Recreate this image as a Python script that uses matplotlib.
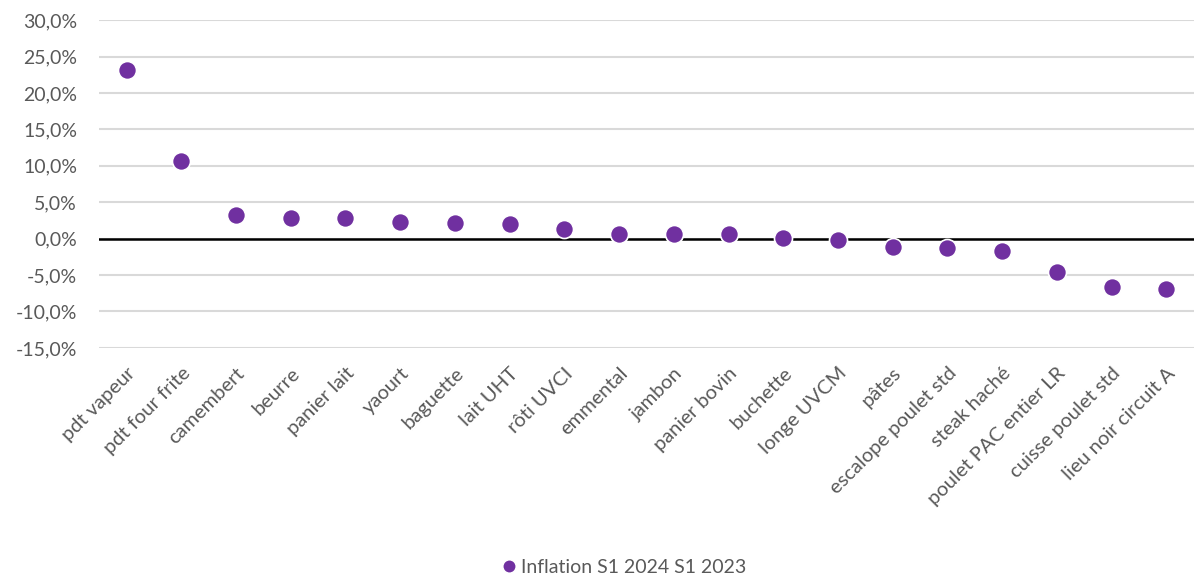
import matplotlib.pyplot as plt
from matplotlib.ticker import FuncFormatter

# Products and inflation S1 2024 vs S1 2023 (%)
products = ['pdt vapeur', 'pdt four frite', 'camembert', 'beurre', 'panier lait',
            'yaourt', 'baguette', 'lait UHT', 'rôti UVCI', 'emmental', 'jambon',
            'panier bovin', 'buchette', 'longe UVCM', 'pâtes', 'escalope poulet std',
            'steak haché', 'poulet PAC entier LR', 'cuisse poulet std',
            'lieu noir circuit A']
inflation = [23.1, 10.7, 3.3, 2.9, 2.8, 2.35, 2.1, 1.95, 1.35, 0.7, 0.7, 0.6,
             0.1, -0.15, -1.15, -1.3, -1.7, -4.6, -6.7, -6.9]
series_name = 'Inflation S1 2024 S1 2023'
y_ticks = [-15, -10, -5, 0, 5, 10, 15, 20, 25, 30]

plt.rcParams['font.family'] = ['Lato', 'DejaVu Sans']

fig = plt.figure(figsize=(11.96, 5.76), dpi=100)
ax = fig.add_axes([0.083, 0.396, 0.915, 0.569])

x = range(len(products))
ax.plot(x, inflation, linestyle='none', marker='o', markersize=13,
        color='#7030A0', markeredgecolor='white', markeredgewidth=1.2,
        label=series_name, zorder=3)

ax.axhline(0, color='black', linewidth=1.8, zorder=2)

ax.set_ylim(-15, 30)
ax.set_yticks(y_ticks)
ax.yaxis.set_major_formatter(FuncFormatter(lambda v, p: f'{v:.1f}%'.replace('.', ',')))
ax.set_xlim(-0.5, len(products) - 0.5)
ax.set_xticks(list(x))
ax.set_xticklabels(products, rotation=45, ha='right', rotation_mode='anchor',
                   fontsize=14.5)

ax.grid(axis='y', color='#d9d9d9', linewidth=1.5, zorder=0)
ax.set_axisbelow(True)
for s in ax.spines.values():
    s.set_visible(False)
ax.tick_params(axis='both', length=0, labelcolor='#595959')
ax.tick_params(axis='y', labelsize=14, pad=16)
ax.tick_params(axis='x', pad=12)

fig.legend(loc='lower center', bbox_to_anchor=(0.52, -0.03), frameon=False,
           fontsize=14, labelcolor='#595959', handletextpad=0.0,
           handlelength=1.2, markerscale=0.75)

fig.savefig('out.png', dpi=100)
